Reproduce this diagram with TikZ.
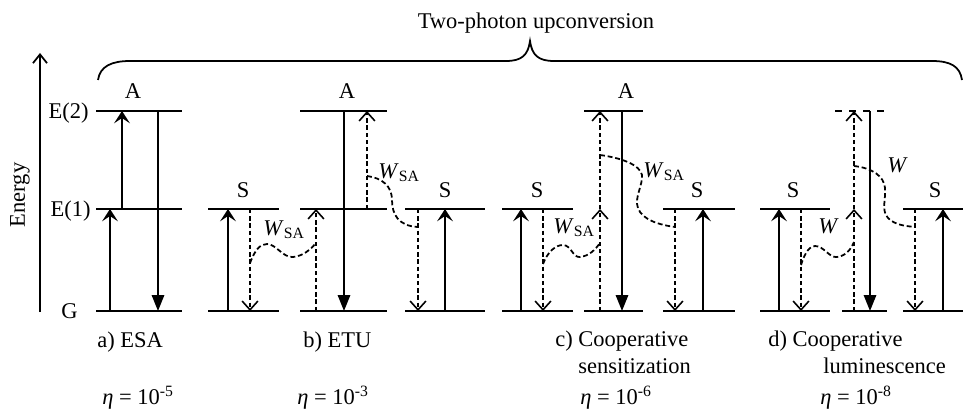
\documentclass[tikz,border=0pt]{standalone}
\usepackage{fontspec}
\setmainfont{Liberation Serif}
\usetikzlibrary{arrows.meta}
\tikzset{
  lvl/.style={line width=1.1pt},
  arrup/.style={line width=1pt, -{Stealth[length=7pt,width=9pt,inset=3pt]}},
  arrdn/.style={line width=1pt, -{Triangle[length=9pt,width=7pt]}},
  dasharr/.style={line width=0.9pt, dash pattern=on 2.5pt off 1.6pt, -{Straight Barb[length=5pt,width=9pt,line width=0.9pt]}},
  wave/.style={line width=1pt, dash pattern=on 2.8pt off 1.6pt},
  lbl/.style={inner sep=0pt},
}
\newcommand{\wsa}{\textit{W}\textsubscript{SA}}
\begin{document}
\begin{tikzpicture}[x=0.02cm, y=-0.02cm, font=\fontsize{12.8}{15}\selectfont]
  \useasboundingbox (0,0) rectangle (963,412);
  % axis and brace
  \coordinate (axbot) at (40,312);
  \coordinate (axtop) at (40,53);
  \draw[line width=1pt, -{Straight Barb[length=5pt,width=8pt]}] (axbot) -- (axtop);
  \node[lbl, rotate=90] (energy) at (20,195) {Energy};
  \draw[line width=1pt] (98,80) .. controls (100,66) and (112,61) .. (130,61) -- (506,61)
    .. controls (522,61) and (528,55) .. (530,41) .. controls (532,55) and (538,61) .. (554,61)
    -- (932,61) .. controls (950,61) and (960,66) .. (962,80);
  \node[lbl, anchor=base] (title) at (536,29) {Two-photon upconversion};
  \node[lbl, anchor=base east] (lE2) at (89,118) {E(2)};
  \node[lbl, anchor=base east] (lE1) at (91,216) {E(1)};
  \node[lbl, anchor=base east] (lG) at (78,318) {G};
  % levels
  \foreach \xa/\xb/\y in {96/182/111, 96/182/209, 96/182/311,
      208/279/209, 208/279/311, 300/387/111, 300/387/209, 300/387/311, 405/485/209, 405/485/311,
      502/573/209, 502/573/311, 584/643/111, 584/643/311, 663/735/209, 663/735/311,
      760/830/209, 760/830/311, 842/887/311, 903/963/209, 903/963/311}
    \draw[lvl] (\xa,\y) -- (\xb,\y);
  \draw[lvl, dash pattern=on 4pt off 4pt] (835,111) -- (886,111);
  \foreach \n/\x in {aA/133, bA/347, cA/626} \node[lbl] (\n) at (\x,91) {A};
  \foreach \n/\x in {bS1/243, bS2/445, cS1/537, cS2/697, dS1/793, dS2/935} \node[lbl] (\n) at (\x,190) {S};
  % arrow columns: g = ground, 1 = E(1), 2 = E(2)
  \foreach \n/\x in {a1/110, a2/122, a3/158, b1/228, b2/250, b3/316, b4/344, b5/367, b6/418, b7/445,
      c1/521, c2/543, c3/600, c4/622, c5/675, c6/703, d1/779, d2/801, d3/854, d4/870, d5/915, d6/943} {
    \coordinate (\n-g) at (\x,311);
    \coordinate (\n-1) at (\x,209);
    \coordinate (\n-2) at (\x,111);
  }
  \draw[arrup] (a1-g) -- (a1-1);
  \draw[arrup] (a2-1) -- (a2-2);
  \draw[arrdn] (a3-2) -- (a3-g);
  \draw[arrup] (b1-g) -- (b1-1);
  \draw[dasharr] (b2-1) -- (b2-g);
  \draw[dasharr] (b3-g) -- (b3-1);
  \draw[arrdn] (b4-2) -- (b4-g);
  \draw[dasharr] (b5-1) -- (b5-2);
  \draw[dasharr] (b6-1) -- (b6-g);
  \draw[arrup] (b7-g) -- (b7-1);
  \foreach \p in {c,d} {
    \draw[arrup] (\p1-g) -- (\p1-1);
    \draw[dasharr] (\p2-1) -- (\p2-g);
    \draw[dasharr] (\p3-g) -- (\p3-1);
    \draw[dasharr] (\p3-1) -- (\p3-2);
    \draw[arrdn] (\p4-2) -- (\p4-g);
    \draw[dasharr] (\p5-1) -- (\p5-g);
    \draw[arrup] (\p6-g) -- (\p6-1);
  }
  % energy transfer
  \coordinate (wb1) at (250,263); \coordinate (wb2) at (316,243);
  \coordinate (wb3) at (367,176); \coordinate (wb4) at (418,227);
  \coordinate (wc1) at (543,264); \coordinate (wc2) at (600,243);
  \coordinate (wc3) at (600,155); \coordinate (wc4) at (675,227);
  \coordinate (wd1) at (801,265); \coordinate (wd2) at (854,242);
  \coordinate (wd3) at (854,166); \coordinate (wd4) at (915,227);
  \draw[wave] (wb1) .. controls (255,250) and (260,244) .. (267,244) .. controls (276,244) and (283,258) .. (293,257)
    .. controls (303,256) and (310,250) .. (wb2);
  \draw[wave] (wb3) .. controls (382,178) and (392,186) .. (392,200) .. controls (392,214) and (398,226) .. (wb4);
  \draw[wave] (wc1) .. controls (548,251) and (556,245) .. (563,245) .. controls (571,245) and (573,258) .. (580,257)
    .. controls (589,256) and (595,250) .. (wc2);
  \draw[wave] (wc3) .. controls (622,158) and (640,165) .. (642,175) .. controls (643,185) and (634,198) .. (638,208)
    .. controls (642,220) and (660,225) .. (wc4);
  \draw[wave] (wd1) .. controls (805,252) and (810,246) .. (815,246) .. controls (824,246) and (829,258) .. (837,257)
    .. controls (846,256) and (851,249) .. (wd2);
  \draw[wave] (wd3) .. controls (872,168) and (884,176) .. (885,188) .. controls (886,200) and (881,210) .. (888,218)
    .. controls (895,225) and (905,226) .. (wd4);
  \foreach \n/\x/\y/\t in {wlb1/263/235/\wsa, wlb2/378/178/\wsa, wlc1/553/233/\wsa, wlc2/643/177/\wsa,
      wld1/818/233/\textit{W}, wld2/887/173/\textit{W}}
    \node[lbl, anchor=base west] (\n) at (\x,\y) {\t};
  % captions
  \foreach \x/\y/\t in {97/347/{a) ESA}, 303/347/{b) ETU}, 555/346/{c) Cooperative}, 578/373/{sensitization},
      768/346/{d) Cooperative}, 823/373/{luminescence}}
    \node[lbl, anchor=base west] (cap\x) at (\x,\y) {\t};
  \foreach \x/\e in {102/5, 297/3, 580/6, 820/8}
    \node[lbl, anchor=base west] (eta\x) at (\x,404) {\textit{η} = 10\textsuperscript{-\e}};
\end{tikzpicture}
\end{document}
